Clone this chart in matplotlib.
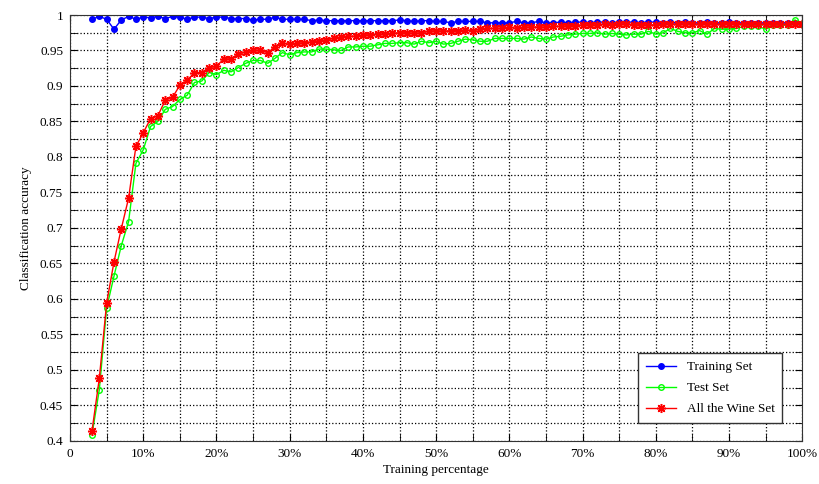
import matplotlib
matplotlib.use('Agg')
import matplotlib.pyplot as plt
from matplotlib.ticker import MultipleLocator, FuncFormatter

percent = list(range(3, 101))

training_set = [
    0.994, 0.998, 0.994, 0.980, 0.993, 0.998, 0.994, 0.997, 0.996, 0.998,
    0.995, 0.998, 0.997, 0.994, 0.997, 0.997, 0.995, 0.997, 0.997, 0.995,
    0.995, 0.995, 0.993, 0.994, 0.994, 0.997, 0.994, 0.994, 0.994, 0.994,
    0.992, 0.993, 0.992, 0.992, 0.992, 0.992, 0.992, 0.992, 0.992, 0.992,
    0.992, 0.992, 0.993, 0.992, 0.991, 0.992, 0.992, 0.991, 0.991, 0.989,
    0.991, 0.991, 0.991, 0.991, 0.989, 0.989, 0.989, 0.989, 0.991, 0.989,
    0.989, 0.991, 0.989, 0.989, 0.990, 0.989, 0.990, 0.990, 0.989, 0.990,
    0.990, 0.989, 0.990, 0.990, 0.990, 0.989, 0.990, 0.990, 0.989, 0.990,
    0.989, 0.990, 0.989, 0.989, 0.990, 0.989, 0.989, 0.990, 0.989, 0.989,
    0.989, 0.989, 0.989, 0.989, 0.989, 0.989, 0.989, 0.988,
]

test_set = [
    0.409, 0.472, 0.587, 0.632, 0.675, 0.709, 0.791, 0.810, 0.843, 0.850,
    0.867, 0.871, 0.881, 0.887, 0.905, 0.907, 0.919, 0.916, 0.922, 0.920,
    0.926, 0.932, 0.936, 0.936, 0.932, 0.939, 0.947, 0.944, 0.947, 0.948,
    0.948, 0.952, 0.952, 0.951, 0.950, 0.955, 0.955, 0.956, 0.956, 0.958,
    0.960, 0.960, 0.961, 0.961, 0.959, 0.963, 0.961, 0.963, 0.959, 0.960,
    0.963, 0.966, 0.965, 0.963, 0.963, 0.967, 0.967, 0.967, 0.967, 0.966,
    0.969, 0.967, 0.966, 0.969, 0.970, 0.972, 0.973, 0.974, 0.974, 0.975,
    0.973, 0.974, 0.973, 0.972, 0.973, 0.973, 0.977, 0.973, 0.975, 0.981,
    0.977, 0.975, 0.975, 0.978, 0.973, 0.981, 0.980, 0.980, 0.981, 0.984,
    0.984, 0.984, 0.980, 0.986, 0.986, 0.986, 0.993, 0.988,
]

all_wine_set = [
    0.414, 0.488, 0.594, 0.652, 0.699, 0.742, 0.815, 0.834, 0.854, 0.858,
    0.880, 0.884, 0.901, 0.908, 0.919, 0.919, 0.926, 0.928, 0.938, 0.938,
    0.945, 0.948, 0.950, 0.950, 0.947, 0.955, 0.960, 0.959, 0.960, 0.961,
    0.962, 0.964, 0.965, 0.967, 0.969, 0.970, 0.970, 0.972, 0.972, 0.973,
    0.973, 0.974, 0.975, 0.975, 0.974, 0.975, 0.977, 0.978, 0.977, 0.978,
    0.978, 0.979, 0.978, 0.980, 0.981, 0.981, 0.981, 0.983, 0.981, 0.983,
    0.983, 0.983, 0.983, 0.984, 0.984, 0.985, 0.985, 0.986, 0.986, 0.986,
    0.987, 0.986, 0.987, 0.987, 0.986, 0.986, 0.986, 0.986, 0.987, 0.987,
    0.987, 0.987, 0.987, 0.987, 0.988, 0.987, 0.987, 0.988, 0.988, 0.987,
    0.987, 0.987, 0.987, 0.987, 0.987, 0.987, 0.987, 0.988,
]

series_names = ['Training Set', 'Test Set', 'All the Wine Set']


def main():
    plt.rcParams['font.family'] = ['Liberation Serif', 'DejaVu Serif']
    plt.rcParams['font.size'] = 9.5

    fig = plt.figure(figsize=(8.19, 4.84), dpi=100)
    ax = fig.add_axes([0.0855, 0.089, 0.894, 0.880])

    ax.plot(percent, training_set, color='#0000ff', marker='o', markersize=4,
            linewidth=1, label=series_names[0])
    ax.plot(percent, test_set, color='#00ff00', marker='o', markersize=4,
            markerfacecolor='none', markeredgewidth=1, linewidth=1,
            label=series_names[1])
    # matlab style asterisk marker
    ax.plot(percent, all_wine_set, color='#ff0000', marker=(8, 2, 0), markersize=6.5,
            markeredgewidth=1.1, linewidth=1, label=series_names[2])

    ax.set_xlim(0, 100)
    ax.set_ylim(0.4, 1.0)

    ax.xaxis.set_major_locator(MultipleLocator(10))
    ax.xaxis.set_minor_locator(MultipleLocator(5))
    ax.yaxis.set_major_locator(MultipleLocator(0.05))
    ax.yaxis.set_minor_locator(MultipleLocator(0.025))
    ax.xaxis.set_major_formatter(FuncFormatter(lambda v, p: '0' if v == 0 else '%d%%' % v))
    ax.yaxis.set_major_formatter(FuncFormatter(lambda v, p: '%g' % round(v, 2)))

    ax.tick_params(which='both', direction='in', top=True, right=True, length=5)
    ax.tick_params(which='major', pad=5)
    ax.grid(which='both', linestyle=':', color='black', linewidth=0.9)
    for spine in ax.spines.values():
        spine.set_color('#333333')

    ax.set_xlabel('Training percentage', labelpad=3)
    ax.set_ylabel('Classification accuracy', labelpad=6)

    leg = ax.legend(loc='lower right', bbox_to_anchor=(0.973, 0.042),
                    borderaxespad=0, fancybox=False, framealpha=1,
                    edgecolor='#333333', handlelength=2.3, borderpad=0.6,
                    labelspacing=0.65, fontsize=9.5)
    leg.get_frame().set_linewidth(1)

    fig.savefig('out.png', dpi=100)


if __name__ == '__main__':
    main()
